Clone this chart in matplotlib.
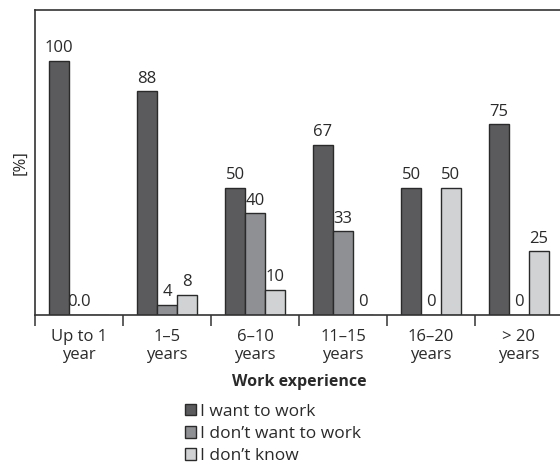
import numpy as np
import matplotlib
matplotlib.use('Agg')
import matplotlib.pyplot as plt

plt.rcParams['font.family'] = ['Open Sans', 'DejaVu Sans']

categories = ['Up to 1\nyear', '1–5\nyears', '6–10\nyears', '11–15\nyears', '16–20\nyears', '> 20\nyears']
want = [100, 88, 50, 67, 50, 75]
dont_want = [0, 4, 40, 33, 0, 0]
dont_know = [0, 8, 10, 0, 50, 25]
want_lbl = ['100', '88', '50', '67', '50', '75']
dont_want_lbl = ['0.0', '4', '40', '33', '0', '0']
dont_know_lbl = ['', '8', '10', '0', '50', '25']
series_names = ['I want to work', 'I don\u2019t want to work', 'I don\u2019t know']

colors = ['#5b5b5d', '#8f9093', '#d1d2d4']
edge = '#2a2a2a'
text_col = '#2a2a2a'

fig = plt.figure(figsize=(5.6, 4.65), dpi=100)
ax = fig.add_axes([35/560, 150/465, 528/560, 305/465])

x = np.arange(len(categories))
w = 0.227
series = [(want, want_lbl), (dont_want, dont_want_lbl), (dont_know, dont_know_lbl)]
handles = []
for i, (vals, lbls) in enumerate(series):
    pos = x + (i - 1) * w
    b = ax.bar(pos, vals, width=w, color=colors[i], edgecolor=edge, linewidth=1.0,
               label=series_names[i])
    handles.append(b)
    for p, v, t in zip(pos, vals, lbls):
        if t:
            ax.text(p, v + 1.8, t, ha='center', va='bottom', fontsize=12, color=text_col)

ax.set_xlim(-0.5, 5.5)
ax.set_ylim(0, 120)
ax.set_yticks([])

# boundaries get the tick marks, group centres get the labels
ax.set_xticks(np.arange(-0.5, 6, 1.0))
ax.set_xticklabels([])
ax.set_xticks(x, minor=True)
ax.set_xticklabels(categories, minor=True, fontsize=12, color=text_col, linespacing=1.15)
ax.tick_params(axis='x', which='major', length=8, width=1.1, color='#333333', direction='out')
ax.tick_params(axis='x', which='minor', length=0, pad=10)

for s in ['left', 'bottom', 'top']:
    ax.spines[s].set_color('#333333')
    ax.spines[s].set_linewidth(1.2)
ax.spines['right'].set_visible(False)

ax.set_ylabel('[%]', fontsize=12, color=text_col, labelpad=5)
ax.set_xlabel('Work experience', fontsize=11.5, fontweight='bold', color=text_col, labelpad=8)

fig.legend(handles=handles, loc='upper left', bbox_to_anchor=(176/560, 1 - 395/465),
           frameon=False, fontsize=12.5, handlelength=0.65, handleheight=0.65,
           handletextpad=0.25, labelspacing=0.36, borderpad=0, labelcolor=text_col)

fig.savefig('out.png', dpi=100)
